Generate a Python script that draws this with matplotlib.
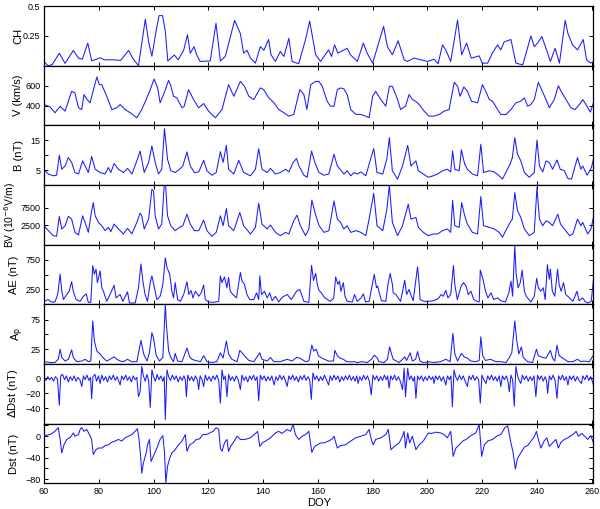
import numpy as np
import matplotlib
matplotlib.use("Agg")
import matplotlib.pyplot as plt

plt.rcParams['font.family'] = ['Liberation Sans', 'DejaVu Sans']

# ---------------- data (DOY, value) ----------------
ch_day = [60, 61.5, 63, 65.6, 67.7, 70.7, 72.6, 74, 76, 77.4, 78.5, 80.5, 82, 85, 88, 90.9, 92.5, 94.5, 97, 98.2,
          99.4, 101, 102, 103.3, 104.3, 105.2, 107.6, 109, 111, 112.4, 113.4, 114.8, 115.8, 117, 120.7, 122.8, 124.4,
          126.2, 129.6, 131.7, 132.9, 134.1, 135.4, 137.2, 139, 140.3, 142, 142.9, 144.5, 146.3, 147.6, 149.4, 150.6,
          153, 155.5, 157, 159.2, 161, 163.9, 165, 166.1, 167.3, 170.7, 171.9, 174.4, 176.6, 178, 180, 184, 185.4,
          187.2, 189.3, 191.5, 192.7, 195.1, 197.6, 200, 202.4, 203.9, 205.5, 206.7, 208.5, 211, 212.5, 214.3, 216,
          218.9, 220, 222, 223.8, 225.6, 226.8, 228, 230.5, 232.3, 234.8, 237.8, 239, 240.2, 241.8, 243.9, 244.9,
          246.6, 248.2, 250.3, 251.3, 253, 254.8, 256.9, 258.1, 259.6, 260.6]
ch_val = [0.036, 0.0, 0.01, 0.105, 0.02, 0.128, 0.064, 0.055, 0.19, 0.042, 0.05, 0.067, 0.05, 0.05, 0.045, 0.128, 0.06,
          0.0, 0.39, 0.2, 0.08, 0.3, 0.42, 0.42, 0.29, 0.04, 0.09, 0.05, 0.13, 0.26, 0.105, 0.16, 0.09, 0.036, 0.04,
          0.356, 0.04, 0.078, 0.38, 0.27, 0.105, 0.13, 0.064, 0.022, 0.16, 0.13, 0.22, 0.092, 0.036, 0.12, 0.078,
          0.23, 0.036, 0.017, 0.22, 0.375, 0.092, 0.036, 0.133, 0.078, 0.175, 0.105, 0.147, 0.092, 0.036, 0.19,
          0.105, 0.022, 0.33, 0.16, 0.092, 0.21, 0.05, 0.036, 0.064, 0.05, 0.036, 0.055, 0.017, 0.175, 0.133, 0.036,
          0.383, 0.092, 0.19, 0.064, 0.083, 0.022, 0.022, 0.11, 0.175, 0.133, 0.2, 0.22, 0.022, 0.008, 0.25, 0.16,
          0.19, 0.245, 0.105, 0.036, 0.147, 0.022, 0.38, 0.27, 0.175, 0.133, 0.22, 0.05, 0.022, 0.036]

v_day = [60, 62.2, 64, 65.9, 67.7, 70.1, 71.3, 72.6, 73.8, 74.6, 75.6, 76.8, 79.3, 80.2, 81.1, 82.9, 84.8, 86.6, 87.8,
         89.6, 91.5, 93.9, 95.7, 97.3, 98.8, 100.2, 101.5, 102.4, 103.9, 105.5, 106.3, 107.3, 108.5, 110.4, 111.2,
         112.8, 114.6, 116.5, 118.3, 120.1, 122.6, 125, 127.4, 129.3, 131.7, 133.2, 134.8, 136.6, 139, 140.2, 142.1,
         144, 145.7, 147.6, 149.4, 151.2, 153.4, 154.9, 156, 157.4, 159.2, 160.4, 161.6, 163.4, 164.6, 165.9, 167.1,
         168.3, 169.5, 170.7, 172, 173.9, 175.7, 177.5, 178.7, 180, 181.1, 183, 184.8, 186.1, 187.2, 189.1, 190.2,
         192, 193.3, 194.5, 195.7, 197, 198.8, 200.6, 202.4, 204.3, 206.1, 207.9, 209.8, 211, 211.9, 213.3, 214.6,
         216.1, 218.3, 220.1, 221.3, 222.6, 223.8, 225.6, 226.8, 228.7, 230.5, 232.3, 234.1, 235.4, 236.6, 237.8,
         239, 240.5, 241.7, 243.3, 244.5, 246.3, 247.8, 248.8, 250.6, 252.4, 253.9, 255.5, 256.7, 257.9, 259.5,
         260.6]
v_val = [410, 387, 327, 393, 343, 543, 527, 377, 360, 510, 467, 427, 687, 610, 610, 493, 360, 377, 410, 360, 327, 277,
         360, 460, 560, 667, 577, 427, 527, 653, 600, 493, 477, 377, 393, 560, 460, 377, 420, 343, 277, 360, 610, 493,
         643, 593, 493, 460, 577, 560, 477, 427, 360, 327, 293, 310, 560, 510, 360, 610, 643, 643, 593, 443, 393, 393,
         560, 577, 567, 510, 360, 310, 310, 293, 277, 493, 543, 460, 393, 593, 593, 460, 360, 393, 510, 460, 443, 410,
         343, 293, 293, 310, 343, 360, 633, 593, 493, 587, 543, 443, 427, 610, 543, 460, 443, 360, 310, 310, 360, 427,
         443, 477, 393, 410, 460, 633, 560, 460, 377, 460, 600, 543, 460, 377, 360, 410, 460, 410, 333, 427]

b_day = [60, 61.6, 63.4, 64.6, 65.6, 66.5, 67.7, 68.9, 70.1, 71.3, 72.6, 74.1, 75, 76.2, 77.4, 78.7, 80.5, 82.3, 83.5,
         84.4, 85.6, 87.2, 89, 90.5, 92.1, 93.9, 95.1, 96.6, 98.2, 99.4, 100.6, 101.8, 103, 104, 105.1, 106.3, 107.9,
         109.5, 110.7, 112.2, 113.4, 114.9, 116.5, 118.3, 119.5, 121.3, 122.9, 124.4, 125.4, 126.6, 127.4, 129.3,
         131.1, 132.9, 135.4, 137.2, 138.4, 139.6, 141.5, 142.7, 144.5, 146.3, 148.2, 149.4, 151, 152.2, 153.1,
         154.9, 156.1, 157.7, 158.9, 160.4, 162.2, 164, 165.9, 167.1, 168.3, 169.5, 170.7, 172, 173.2, 174.4, 175.7,
         177.5, 179.4, 180.4, 181.6, 183.7, 185.2, 186.1, 187.2, 189.1, 190.9, 192.8, 194, 195.8, 196.7, 198.5,
         200.3, 202.1, 203.7, 205.5, 207.3, 208.5, 209.2, 210, 211.6, 212.4, 213.6, 214.6, 216.4, 218.3, 219.5,
         220.5, 222.6, 224.4, 226.2, 227.4, 228.6, 230.2, 231, 231.9, 232.9, 234.1, 235.4, 237.2, 239, 240, 240.9,
         242.1, 243.3, 244.5, 245.7, 247.3, 248.5, 250, 251.3, 252.6, 254.8, 256, 256.7, 258.3, 259.9, 260.6]
b_val = [5.1, 3.7, 3.1, 3.3, 10, 5.3, 6.4, 9.2, 7.6, 4.2, 3.7, 8.1, 6.4, 4.2, 9.6, 5.3, 4.2, 3.7, 5.9, 4.2, 7.2, 5.3,
         4.2, 5.6, 3.7, 8.1, 11.4, 4.2, 7.6, 13.1, 7.6, 3.7, 5.3, 18.9, 8.7, 4.8, 4.2, 5.3, 6.4, 11.1, 6.4, 4.2, 4.4,
         8.3, 4.8, 3.3, 4.2, 11.2, 7.6, 13.3, 5.3, 3.7, 8.3, 4.2, 3.1, 5.3, 12.2, 5.3, 4.2, 5.6, 3.7, 4.2, 5.3, 4.4,
         7.6, 8.9, 6.4, 3.3, 2.6, 11.4, 7.6, 4.2, 3.3, 3.7, 10.3, 6.4, 5.1, 3.7, 4.8, 3.1, 4.2, 3.7, 4.4, 3.1, 9.2,
         12.2, 4.2, 3.7, 8.9, 15.9, 4.8, 2.0, 6.4, 13.3, 6.4, 8.1, 4.8, 3.7, 2.6, 3.1, 3.7, 4.8, 5.3, 4.4, 11.4, 5.3,
         4.8, 11.8, 7.0, 5.3, 3.7, 3.1, 13.7, 4.2, 4.8, 4.4, 3.1, 2.0, 4.2, 7.0, 9.2, 15.9, 10.3, 8.1, 4.2, 2.6, 4.2,
         15.1, 6.4, 4.4, 8.1, 7.6, 5.3, 8.4, 5.3, 4.8, 2.2, 2.0, 9.2, 5.3, 6.4, 3.3, 5.9, 8.7]

bv_day = [60, 61.6, 63.4, 64.6, 65.6, 66.5, 67.7, 68.9, 70.1, 71.3, 72.6, 74.1, 75, 76.2, 77.4, 78, 78.7, 79.9, 81.1,
          82.3, 83.5, 84.4, 85.6, 87.2, 89, 90.5, 92.1, 93.9, 95.1, 95.7, 96.6, 98.2, 99.4, 100, 100.6, 101.8, 103,
          103.9, 104.4, 105.1, 106.3, 107.9, 109.5, 110.7, 112.2, 113.4, 114.9, 116.5, 118.3, 119.5, 121.3, 122.9,
          124.4, 125.4, 126.6, 127.4, 129.3, 131.5, 132.9, 135.4, 137.2, 138.4, 139.6, 141.5, 142.7, 144.5, 146.3,
          148.2, 149.4, 151.2, 152.4, 153.6, 155.5, 156.7, 157.8, 159.1, 160.4, 162.2, 164, 165.9, 167.1, 168.3,
          169.5, 170.7, 172, 173.9, 175.7, 177.5, 178.7, 180.4, 181.6, 183.7, 185.2, 186.1, 187.2, 189.1, 190.9, 193,
          194, 195.8, 196.7, 198.5, 200.3, 202.1, 203.7, 205.5, 207.3, 208.5, 209.2, 210, 211.6, 212.5, 213.6, 214.6,
          216.4, 218.3, 219.5, 220.5, 222.6, 224.4, 226.2, 227.4, 228.6, 230.2, 231, 231.9, 232.9, 234.1, 235.4,
          237.2, 239, 240, 240.9, 242.1, 243.3, 244.5, 245.7, 247.6, 248.6, 250, 251.9, 253.1, 254.8, 256, 256.7,
          258.5, 259.7, 260.6]
bv_val = [2310, 900, -520, -700, 4950, 1370, 2310, 4950, 4200, 420, -330, 5140, 3250, 420, 6550, 8910, 5140, 3250,
          2310, 900, 1840, 610, 2780, 1370, -50, 1560, 0, 3250, 5890, 5140, 1370, 4200, 12680, 12200, 5140, 1370,
          2780, 13900, 13900, 5140, 2310, 900, 1840, 2310, 5600, 2780, 900, 900, 3900, 900, -700, 420, 5140, 2310,
          7200, 2310, 900, 6080, 2310, -50, 1840, 8720, 2780, 1370, 2500, 420, -520, 420, -50, 3720, 5330, 2310,
          -520, 1370, 9600, 5600, 2400, 420, 900, 9380, 4200, 3250, 1370, 2310, 420, 900, 420, -520, 4200, 11550,
          2310, 900, 7030, 13900, 3250, -520, 2310, 8440, 4200, 4670, 1840, 420, -520, -50, -50, 900, 1370, 420,
          9570, 2310, 1840, 8910, 5140, 2780, 420, -50, 10610, 2310, 1840, 1370, 420, -990, 900, 3250, 4200, 11740,
          6550, 4670, 1370, -520, 420, 13160, 4200, 2310, 3720, 3250, 2310, 5600, 2780, 1370, -520, -50, 4200, 2310,
          3250, -50, 1370, 4670]

ae_day = [60, 61.5, 62.7, 64, 65, 65.9, 66.5, 67.1, 68.3, 69.2, 70.1, 70.7, 71.7, 73.2, 74.4, 75.4, 76.2, 77.1, 77.8,
          78.4, 79, 79.5, 80.5, 81.1, 81.7, 82.9, 84.1, 85.6, 86.3, 87.8, 88.8, 90.5, 91.2, 93.3, 94.5, 95.4, 96.1,
          96.9, 97.8, 98.8, 99.4, 100.2, 101.2, 102.4, 103.4, 104.3, 104.9, 105.9, 106.7, 107.3, 107.9, 108.8, 109.8,
          111, 112.2, 112.9, 113.7, 114.4, 115.3, 116.5, 117.4, 118.3, 118.9, 120.1, 121.9, 123.8, 124.4, 125, 125.9,
          126.8, 127.4, 128, 129, 130.3, 131.7, 132.3, 133.2, 134.1, 135.1, 136.6, 137.6, 138.4, 138.8, 139.4, 140.5,
          141.5, 142.4, 143.3, 144.5, 145.7, 147, 148.8, 150.3, 152.2, 153.4, 154.9, 156.7, 157.7, 158.4, 159.2,
          159.8, 160.4, 161.3, 162.5, 164.6, 165.8, 166.5, 167.3, 167.9, 168.4, 169.3, 169.9, 170.7, 172.6, 173.4,
          174.4, 175.8, 176.6, 177.4, 178.7, 179.9, 180.6, 181.4, 181.8, 182.6, 183.2, 184.8, 185.6, 186.4, 187.2,
          187.5, 188.5, 190.2, 191.7, 192.4, 193.3, 193.9, 194.8, 196.4, 197, 197.3, 198.8, 200.6, 202.4, 204, 205,
          205.8, 206.7, 207.5, 208.5, 209.5, 210, 210.9, 212.3, 213.2, 214.1, 214.9, 215.9, 216.9, 218.1, 218.9,
          219.3, 220.3, 221.2, 222.1, 223.2, 224.2, 225.6, 226.8, 228.5, 229.7, 230.5, 231.1, 231.9, 232.4, 233.1,
          233.9, 234.6, 235.4, 236.1, 237.8, 239, 239.9, 240.5, 241.4, 242.3, 243, 243.8, 244.5, 244.9, 245.6, 246.5,
          247.5, 248.1, 248.8, 249.7, 250.5, 251.9, 253.1, 254.6, 255.4, 256.7, 257.5, 258.5, 259.8, 260.6]
ae_val = [50, 80, 40, 40, 165, 505, 220, 80, 165, 220, 380, 220, 80, 50, 136, 176, 34, 34, 650, 505, 590, 364, 560,
          278, 220, 50, 165, 320, 108, 165, 50, 210, 23, 23, 278, 676, 392, 165, 50, 364, 477, 307, 80, 136, 335, 778,
          620, 505, 220, 108, 364, 80, 50, 165, 380, 165, 233, 108, 220, 136, 193, 324, 80, 40, 34, 50, 477, 364, 460,
          278, 450, 220, 165, 108, 534, 392, 335, 165, 80, 80, 193, 80, 477, 165, 220, 108, 193, 62, 136, 40, 120, 165,
          80, 220, 250, 50, 34, 655, 400, 520, 330, 233, 193, 108, 50, 108, 460, 335, 390, 220, 364, 136, 50, 40, 165,
          50, 108, 176, 40, 50, 335, 505, 278, 307, 165, 62, 50, 335, 517, 335, 193, 165, 50, 403, 165, 250, 165, 62,
          630, 335, 80, 50, 50, 62, 97, 165, 136, 233, 108, 165, 650, 335, 80, 307, 364, 307, 165, 220, 80, 50, 40,
          574, 420, 220, 108, 193, 80, 108, 62, 40, 193, 390, 136, 990, 505, 278, 364, 574, 220, 136, 40, 136, 437,
          278, 220, 278, 80, 665, 420, 590, 220, 136, 590, 335, 220, 364, 165, 108, 50, 220, 62, 108, 50, 23, 50, 403]

ap_day = [60, 62.2, 64, 65.2, 65.9, 66.5, 67.7, 68.9, 70.1, 70.7, 72, 73.8, 75, 76.2, 77.1, 77.8, 78.4, 79.3, 80.5,
          81.7, 82.9, 84.1, 85.6, 86.6, 87.8, 89, 90.5, 92.1, 93.9, 95.4, 96.4, 97.6, 98.5, 99.4, 100, 101, 102.2,
          103.4, 104.3, 104.7, 105.5, 106.3, 107.3, 107.9, 108.8, 110.4, 112.2, 113.2, 114, 115.3, 117.1, 118.3,
          119.5, 121.3, 123.1, 124.4, 125.4, 126.6, 127.4, 128.6, 130.5, 131.5, 132.3, 133.2, 134.8, 136.6, 138.8,
          139.6, 141.5, 142.7, 143.9, 146.3, 148.8, 150.6, 152.2, 153.4, 155.5, 156.7, 157.8, 158.5, 159.4, 160.2,
          161.4, 163.9, 165.7, 166.2, 167.1, 168.1, 169.3, 170.5, 172, 173.2, 174.4, 176.2, 178, 179.6, 180.6, 181.7,
          182.3, 184.2, 185.4, 186.2, 186.9, 187.5, 189.6, 190.9, 191.7, 192.4, 193.7, 194.5, 195.7, 196.4, 197.3,
          198.4, 200.8, 202.4, 204.9, 206.7, 208.3, 209.3, 210, 211, 212.4, 213.4, 214.6, 215.8, 217.7, 218.9, 219.5,
          220.2, 221.2, 223, 225, 226.8, 228.7, 229.9, 230.8, 231.9, 232.6, 233.4, 234.3, 235, 236.6, 238.4, 239.8,
          240.5, 242.1, 243.3, 244.9, 245.7, 246.5, 247.3, 248.1, 250, 251.3, 253.1, 254.8, 256, 257, 259.1, 260.6]
ap_val = [4, 2.5, 2.5, 8, 25, 11, 5, 8, 24, 11, 4, 5, 8, 4, 5, 73, 39, 22, 17, 10, 5, 8, 12, 8, 5, 4, 8, 3.6, 4, 40,
          17, 5, 19, 53, 44, 14, 5, 11, 101, 67, 22, 11, 4, 18, 5, 4, 27, 12, 8, 6, 4, 14, 4, 2.5, 4, 19, 10, 39, 17,
          8, 4, 23, 19, 14, 6, 4, 19, 8, 5, 11, 4, 4, 8, 5, 11, 10, 4, 5, 32, 22, 25, 14, 10, 5, 5, 23, 14, 10, 8, 4,
          3.6, 4, 2.5, 4, 2.5, 8, 15, 10, 4, 2.5, 8, 29, 17, 8, 2.5, 8, 12, 6, 19, 5, 8, 21, 5, 2.5, 3.6, 2.5, 4, 8,
          4, 52, 17, 5, 18, 12, 10, 5, 4, 6, 46, 14, 6, 8, 4, 4, 2.5, 11, 19, 73, 40, 17, 29, 11, 4, 2.5, 25, 14, 11,
          10, 23, 10, 5, 32, 14, 8, 4, 4, 8, 4, 5, 3.6, 15]

ddst_day = [60, 60.7, 61.4, 62, 62.8, 63.5, 64.2, 64.9, 65.6, 66.1, 66.8, 67.5, 68.2, 68.9, 69.6, 70.3, 71, 71.7,
            72.4, 73.1, 73.8, 74.4, 75, 75.7, 76.4, 77, 77.4, 77.9, 78.6, 79.2, 79.9, 80.5, 81.1, 81.8, 82.5, 83.2,
            83.9, 84.6, 85.3, 86, 86.7, 87.3, 87.8, 88.4, 89.1, 89.8, 90.5, 91.2, 91.9, 92.6, 93.3, 93.9, 94.5, 95.1,
            95.7, 96.3, 97, 97.6, 98.2, 98.8, 99.4, 100, 100.7, 101.3, 102, 102.7, 103.4, 103.9, 104.3, 104.9, 105.5,
            106.2, 106.9, 107.6, 108.3, 109, 109.7, 110.4, 111.1, 111.6, 112, 112.5, 113.2, 113.9, 114.6, 115.3, 116,
            116.5, 117, 117.7, 118.3, 118.9, 119.6, 120.3, 121, 121.7, 122.4, 123.1, 123.8, 124.4, 125, 125.6, 126.2,
            126.8, 127.4, 128.1, 128.8, 129.5, 130.2, 130.9, 131.7, 132.3, 133, 133.7, 134.4, 135.1, 135.8, 136.5,
            137.2, 137.8, 138.4, 139, 139.7, 140.4, 141.1, 141.8, 142.5, 143.2, 144, 144.7, 145.4, 146.1, 146.8,
            147.5, 148.2, 148.8, 149.4, 150.1, 150.8, 151.5, 152.2, 152.9, 153.6, 154.3, 155, 155.7, 156.4, 157,
            157.6, 158.2, 158.9, 159.6, 160.3, 161, 161.7, 162.4, 163.1, 163.9, 164.5, 165.2, 165.9, 166.6, 167.3,
            168, 168.7, 169.4, 170.1, 170.8, 171.5, 172.2, 172.9, 173.6, 174.2, 174.7, 175.3, 176, 176.7, 177.4,
            178.1, 178.8, 179.5, 180.1, 180.8, 181.5, 182.2, 182.9, 183.6, 184.3, 185, 185.5, 186, 186.6, 187.3, 188,
            188.7, 189.4, 190.1, 190.9, 191.5, 192, 192.8, 193.4, 194.1, 194.8, 195.3, 195.8, 196.4, 197.1, 197.8,
            198.5, 199.2, 199.9, 200.6, 201.3, 202, 202.4, 203, 203.7, 204.4, 205.1, 205.8, 206.7, 207.3, 208, 208.6,
            209.1, 209.7, 210.3, 211, 211.7, 212.4, 213.1, 213.8, 214.6, 215.2, 215.9, 216.6, 217.3, 218, 218.7,
            219.3, 219.9, 220.6, 221.4, 222, 222.7, 223.4, 224.1, 224.8, 225.5, 226.2, 226.8, 227.4, 228.1, 228.8,
            229.4, 229.9, 230.5, 231.1, 231.7, 232.3, 232.9, 233.5, 234.1, 234.7, 235.4, 236.1, 236.8, 237.5, 238.2,
            238.9, 239.6, 240.2, 240.9, 241.6, 242.3, 243, 243.5, 243.9, 244.5, 245.2, 245.9, 246.6, 247.3, 247.9,
            248.6, 249.3, 250, 250.7, 251.3, 251.9, 252.6, 253.3, 254, 254.7, 255.4, 256.2, 256.8, 257.5, 258.2,
            258.9, 259.6, 260.2, 260.6]
ddst_val = [0, -3, 2, -2, 1, -4, 2, -1, -35.5, 3, 5, -2, 3, -5, 2, -3, 3, -4, 1, -2, -11, 3, -2, 4, -3, 1, -27, 2, 5,
            -4, 3, -7, 4, -3, 2, -5, 3, -2, 4, -3, 2, -4, -9, 3, -2, 4, -3, 2, -5, 3, -2, 1, -24.4, -18, 15.5, 3, -4,
            5, -3, -38.7, 11, 2, -4, 5, -2, 3, -4, 2, -54.7, 11, 2, -3, 4, -2, 3, -5, 2, -3, 3, -2, -24.4, 4, -3, 2,
            -4, 3, -2, -15, 3, -2, -11, 4, -3, 2, -4, 3, -2, 4, -3, -33, 11, -2, 3, -24.4, 5, -3, 2, -4, 3, -2, -15,
            4, -3, 2, -5, 3, -2, 4, -3, 2, -29.8, 4, -2, 3, -4, 2, -3, 3, -9, 2, -3, 4, -2, 3, -4, -11, 3, -2, 4, -3,
            2, -5, 3, -2, 4, -3, 2, -2, -28, 7, -2, 3, -4, 2, -3, 4, -2, -9, 3, -3, 4, -2, 3, -5, 2, -3, 3, -2, 4, -3,
            2, -4, 3, -7, 2, -3, 4, -2, 3, -4, -22, 4, -2, 3, -4, 2, -3, 4, -2, 3, -13, 3, -2, 4, -3, 2, -4, -15, 13,
            -24.4, 13, -2, 3, -4, 2, -26.7, 3, -2, 3, -4, 2, -3, 3, -2, 2, -7, 3, -2, 3, -4, 2, -9, 3, -2, 3, -37.8,
            11, 2, -3, 4, -2, 3, -4, -11, 3, -2, 4, -3, 2, -2, -33, 4, -2, -7, 3, -2, 4, -3, 2, -4, 3, -11, 3, -2, 3,
            -4, -18, 4, -2, -36.9, 15.5, 3, -3, -7, 4, -2, 3, -4, 2, -3, 3, -24.4, 4, -2, 3, -4, 2, -3, -20, 3, -2, 4,
            -3, -26.7, 3, -2, 4, -3, 2, -9, 3, -2, 3, -4, 2, -3, -7, 3, -2, 4, -3, 2, -4, -9]

dst_day = [60, 62.2, 64, 65.2, 65.9, 66.5, 67.3, 68.3, 69.5, 70.7, 71.3, 72.6, 73.2, 73.8, 74.6, 75.6, 76.6, 77.4, 78,
           79, 79.9, 81.1, 82.3, 83.5, 84.8, 86, 87.2, 88.4, 89.6, 90.9, 92.1, 93.3, 94.1, 94.7, 95.4, 95.7, 96.3,
           97.3, 97.8, 98.5, 99.1, 99.9, 101, 102.4, 103.4, 104, 104.5, 105.1, 105.9, 106.7, 107.9, 109.1, 110.4,
           111.6, 112.2, 113.2, 114.4, 115.6, 116.8, 118, 119.3, 120.5, 121.7, 122.9, 123.8, 124.4, 125, 125.9, 126.8,
           127.4, 128.3, 129.5, 130.5, 131.7, 133.5, 135.4, 137.2, 138, 138.8, 139.7, 140.9, 142.7, 144.5, 145.7,
           146.9, 148.8, 150, 151, 151.8, 153, 154.3, 155.5, 156.7, 157.8, 158.8, 159.8, 161, 162.2, 163.9, 165.3,
           165.9, 167.1, 168.3, 170.1, 172, 173.8, 175.7, 177.5, 178.7, 179.5, 180.2, 181.1, 183, 184.8, 185.7,
           186.7, 187.9, 189.7, 190.9, 191.5, 192, 192.8, 193.5, 194.5, 195.8, 197, 198.5, 200.3, 201.5, 203.1,
           204.9, 206.1, 207.3, 208.5, 209.4, 210.4, 211.6, 212.9, 214.1, 215.3, 216.5, 217.7, 218.9, 219.8, 220.8,
           222, 223.8, 225.6, 226.8, 228.3, 229.3, 230.5, 231.3, 232.1, 232.9, 234.1, 235.4, 236.6, 237.8, 239,
           239.8, 240.5, 241.4, 242.6, 243.6, 244.5, 245.7, 246.9, 247.8, 248.8, 250, 251.3, 253.1, 254.3, 255.1,
           256.4, 257.4, 258.5, 259.7, 260.6]
dst_val = [1, 3, 9, 16, -6, -31, -16, -6, -3, 6, 0, 3, 12.5, 16, 9, 12.5, 3, -6, -34, -25, -22, -22, -17.5, -16, -11,
           -9, -6, -9, -3, 0, 3, 9, 14, -6, -44, -69, -50, -31, -16, -6, -47, -37.5, -25, -6, 1, -31, -87, -56, -41,
           -31, -25, -16, -9, 3, -28, -16, -12.5, -6, -5, 3, 3, 6, 9, 16, 12.5, -22, -28, -12.5, -6, -28, -17.5, -9,
           0, -6, -6, -3, 5, 9, -19, -12.5, -9, -3, 6, 9, 5, 12.5, 9, 22, 3, -6, 0, 3, 9, -30, -19, -16, -12.5, -12.5,
           -9, -5, 0, -22, -17.5, -16, -9, -3, 0, 3, 12.5, -6, -16, -6, -3, 3, 12.5, -25, -19, -12.5, 0, 9, -22, 6,
           -12.5, 0, -25, -16, -9, 6, 5, 7.5, 6, 3, -3, 9, -37.5, -22, -16, -9, -6, -1, 3, 6, 22, -37.5, -16, -9, -6,
           1, 3, 16, 19, -12.5, -31, -61, -41, -31, -20, -17.5, -9, -1, 9, -6, -22, -9, -3, -19, -12.5, -6, -22, -11,
           -6, -3, 3, 9, 0, 5, 0, -6, 1, -12.5]

labels = ['CH', 'V (km/s)', 'B (nT)', 'BV (10$^{-6}$V/m)', 'AE (nT)', 'A$_{\\rm p}$', '$\\Delta$Dst (nT)', 'Dst (nT)']
label_sizes = [8, 8, 8, 7.5, 8, 8, 8, 8]
ylims = [(0, 0.5), (200, 800), (0, 20), (-3100, 13900), (0, 1000), (0, 101), (-60, 18.7), (-87.5, 23.3)]
yticks = [[0.25, 0.5], [400, 600], [5, 10, 15], [2500, 7500], [250, 500, 750], [25, 50, 75],
          [-40, -20, 0], [-80, -60, -40, -20, 0, 20]]
yticklabels = [['0.25', '0.5'], ['400', '600'], ['5', '', '15'], ['2500', '7500'], ['250', '', '750'],
               ['25', '', '75'], ['\u221240', '\u221220', '0'], ['\u221280', '', '\u221240', '', '0', '']]
xticks = [60, 80, 100, 120, 140, 160, 180, 200, 220, 240, 260]
label_x = [-0.0373, -0.0373, -0.0355, -0.048, -0.0446, -0.0328, -0.0428, -0.0446]

series = [(ch_day, ch_val), (v_day, v_val), (b_day, b_val), (bv_day, bv_val), (ae_day, ae_val),
          (ap_day, ap_val), (ddst_day, ddst_val), (dst_day, dst_val)]

fig, axes = plt.subplots(8, 1, figsize=(6.0, 5.09), dpi=100, sharex=True)
fig.subplots_adjust(left=0.0733, right=0.989, top=0.988, bottom=0.0505, hspace=0)

for i, ax in enumerate(axes):
    d, v = series[i]
    ax.plot(d, v, color='#1a1aff', lw=0.75)
    ax.set_xlim(60, 260.6)
    ax.set_ylim(*ylims[i])
    ax.set_yticks(yticks[i])
    ax.set_yticklabels(yticklabels[i])
    ax.set_xticks(xticks)
    ax.tick_params(direction='in', length=3, width=0.7, top=True, right=True, labelsize=6.5, pad=2.5)
    for s in ax.spines.values():
        s.set_linewidth(0.9)
    ax.set_ylabel(labels[i], fontsize=label_sizes[i])
    ax.yaxis.set_label_coords(label_x[i], 0.5)

axes[-1].set_xticklabels([str(t) for t in xticks])
axes[-1].tick_params(axis='x', pad=3)
axes[-1].set_xlabel('DOY', fontsize=8, labelpad=1)

fig.savefig('out.png', dpi=100)
